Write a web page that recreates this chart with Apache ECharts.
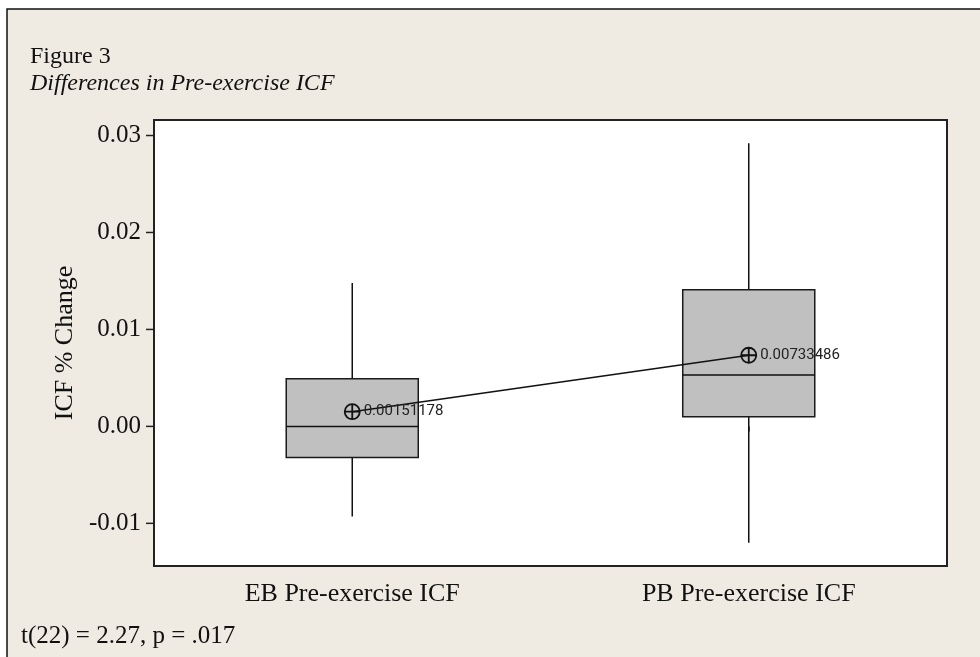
<!DOCTYPE html>
<html>
<head>
<meta charset="utf-8">
<script src="https://cdn.jsdelivr.net/npm/echarts@6/dist/echarts.min.js"></script>
<style>
  html, body { margin: 0; padding: 0; background: #fff; }
  #chart { width: 980px; height: 657px; }
</style>
</head>
<body>
<div id="chart"></div>
<script>
// data
const categories = ['EB Pre-exercise ICF', 'PB Pre-exercise ICF']
const lowWhisker = [-0.0093, -0.0120]
const q1 = [-0.0032, 0.0010]
const median = [0.0000, 0.0053]
const q3 = [0.0049, 0.0141]
const highWhisker = [0.0148, 0.0292]
const means = [0.00151178, 0.00733486]
const yTicks = [-0.01, 0.00, 0.01, 0.02, 0.03]

const serif = 'Liberation Serif'
const bg = '#efebe2'

const boxRows = categories.map((c, i) => [i, lowWhisker[i], q1[i], median[i], q3[i], highWhisker[i]])

const chart = echarts.init(document.getElementById('chart'), null, { renderer: 'canvas' })

chart.setOption({
  animation: false,
  backgroundColor: '#ffffff',
  graphic: [
    {
      type: 'rect',
      z: -10,
      silent: true,
      shape: { x: 7, y: 9, width: 1100, height: 800 },
      style: { fill: bg, stroke: '#111', lineWidth: 1.5 },
    },
    {
      type: 'text',
      left: 30,
      top: 45,
      style: { text: 'Figure 3', fontFamily: serif, fontSize: 24, fill: '#111' },
    },
    {
      type: 'text',
      left: 30,
      top: 72,
      style: { text: 'Differences in Pre-exercise ICF', fontFamily: serif, fontStyle: 'italic', fontSize: 24, fill: '#111' },
    },
    {
      type: 'text',
      left: 21,
      top: 624,
      style: { text: 't(22) = 2.27, p = .017', fontFamily: serif, fontSize: 25, fill: '#111' },
    },
  ],
  grid: {
    left: 154,
    top: 120,
    right: 33,
    bottom: 91,
    show: true,
    backgroundColor: '#ffffff',
    borderColor: '#222',
    borderWidth: 2,
  },
  xAxis: {
    type: 'category',
    data: categories,
    boundaryGap: true,
    axisLine: { show: false },
    axisTick: { show: true, alignWithLabel: true, length: 5, lineStyle: { color: '#222', width: 1.5 } },
    axisLabel: { fontFamily: serif, fontSize: 26, color: '#111', margin: 15 },
    splitLine: { show: false },
  },
  yAxis: {
    type: 'value',
    min: -0.0144,
    max: 0.0316,
    splitNumber: 5,
    name: 'ICF % Change',
    nameLocation: 'middle',
    nameGap: 69,
    nameTextStyle: { fontFamily: serif, fontSize: 26, color: '#111' },
    axisLine: { show: false },
    axisTick: { show: false },
    splitLine: { show: false },
    axisLabel: {
      fontFamily: serif,
      fontSize: 25,
      color: '#111',
      margin: 13,
      showMinLabel: false,
      showMaxLabel: false,
      formatter: function (v) {
        const r = Math.round(v * 100)
        if (Math.abs(v * 100 - r) > 1e-6) return ''
        return (r / 100).toFixed(2)
      },
    },
  },
  series: [
    {
      // y axis tick marks at the round values only
      type: 'custom',
      silent: true,
      data: yTicks.map((v) => [0, v]),
      encode: { x: 0, y: 1 },
      renderItem: function (params, api) {
        const p = api.coord([0, api.value(1)])
        const left = params.coordSys.x
        return {
          type: 'line',
          shape: { x1: left - 8, y1: p[1], x2: left, y2: p[1] },
          style: { stroke: '#222', lineWidth: 1.5 },
        }
      },
      clip: false,
      z: 5,
    },
    {
      type: 'custom',
      silent: true,
      data: boxRows,
      encode: { x: 0, y: [1, 2, 3, 4, 5] },
      renderItem: function (params, api) {
        const c = api.value(0)
        const lo = api.coord([c, api.value(1)])
        const b1 = api.coord([c, api.value(2)])
        const md = api.coord([c, api.value(3)])
        const b3 = api.coord([c, api.value(4)])
        const hi = api.coord([c, api.value(5)])
        const hw = api.size([1, 0])[0] * 0.333 / 2
        const ls = { stroke: '#111', lineWidth: 1.5 }
        return {
          type: 'group',
          children: [
            { type: 'line', shape: { x1: lo[0], y1: lo[1], x2: lo[0], y2: b1[1] }, style: ls },
            { type: 'line', shape: { x1: hi[0], y1: b3[1], x2: hi[0], y2: hi[1] }, style: ls },
            {
              type: 'rect',
              shape: { x: md[0] - hw, y: b3[1], width: hw * 2, height: b1[1] - b3[1] },
              style: { fill: '#c0c0c0', stroke: '#1a1a1a', lineWidth: 1.5 },
            },
            { type: 'line', shape: { x1: md[0] - hw, y1: md[1], x2: md[0] + hw, y2: md[1] }, style: ls },
          ],
        }
      },
      z: 2,
    },
    {
      type: 'line',
      data: means,
      z: 10,
      symbol: 'path://M1,10 A9,9 0 1,1 19,10 A9,9 0 1,1 1,10 Z M10,1 L10,19 M1,10 L19,10',
      symbolSize: 15,
      itemStyle: { color: 'rgba(0,0,0,0)', borderColor: '#111', borderWidth: 1.8 },
      lineStyle: { color: '#111', width: 1.5 },
      emphasis: { disabled: true },
      label: {
        show: true,
        position: 'right',
        distance: 3,
        fontFamily: 'Roboto',
        fontSize: 15,
        color: '#222',
        formatter: function (p) { return String(p.value) },
      },
    },
  ],
})
</script>
</body>
</html>
